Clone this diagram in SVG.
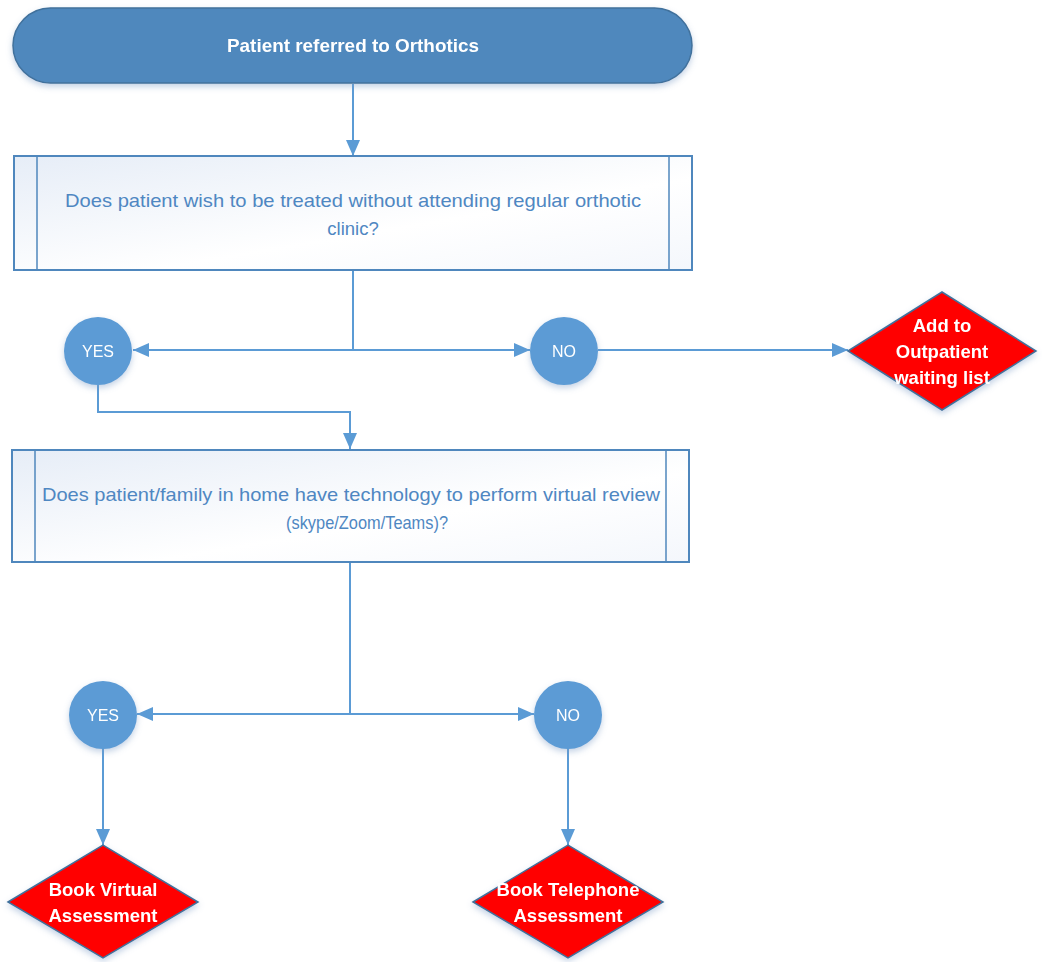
<svg xmlns="http://www.w3.org/2000/svg" width="1042" height="962" viewBox="0 0 1042 962">
<defs>
<linearGradient id="boxg" x1="0" y1="0" x2="1" y2="1">
<stop offset="0" stop-color="#e6edf7"/>
<stop offset="0.6" stop-color="#ffffff"/>
<stop offset="1" stop-color="#f4f7fc"/>
</linearGradient>
<filter id="sh" x="-20%" y="-20%" width="140%" height="150%">
<feDropShadow dx="0" dy="3" stdDeviation="3" flood-color="#7a9cc6" flood-opacity="0.45"/>
</filter>
<marker id="ah" viewBox="0 0 16 14" refX="16" refY="7" markerWidth="16" markerHeight="14" markerUnits="userSpaceOnUse" orient="auto">
<path d="M0,0 L16,7 L0,14 Z" fill="#5b9bd5"/>
</marker>
<style>
.conn{fill:none;stroke:#5b9bd5;stroke-width:2}
.arr{marker-end:url(#ah)}
.term{fill:#4f88bd;stroke:#41719c;stroke-width:1.5}
.box{fill:url(#boxg);stroke:#4f87bd;stroke-width:2}
.inner{stroke:#4f87bd;stroke-width:1.5}
.circ{fill:#5b9bd5}
.dia{fill:#ff0000;stroke:#41719c;stroke-width:1.5}
.t{font-family:"Liberation Sans",Arial,sans-serif;text-anchor:middle;dominant-baseline:central}
.tw{fill:#ffffff;font-weight:bold;font-size:18.5px}
.tb{fill:#4f87c2;font-size:18.5px}
.tc{fill:#ffffff;font-size:16px}
</style>
</defs>
<g id="connectors">
<path class="conn arr" d="M353,84 L353,156"/>
<path class="conn" d="M353,270 L353,350"/>
<path class="conn arr" d="M353,350 L133,350"/>
<path class="conn arr" d="M353,350 L530,350"/>
<path class="conn arr" d="M598,350 L848,350"/>
<path class="conn arr" d="M98,385 L98,412 L350,412 L350,449"/>
<path class="conn" d="M350,563 L350,714"/>
<path class="conn arr" d="M350,714 L137,714"/>
<path class="conn arr" d="M350,714 L534,714"/>
<path class="conn arr" d="M103,748 L103,845"/>
<path class="conn arr" d="M568,748 L568,845"/>
</g>
<g id="start" filter="url(#sh)">
<rect class="term" x="13" y="8" width="679" height="75" rx="37.5" ry="37.5"/>
<text class="t tw" x="353" y="45" textLength="252" lengthAdjust="spacingAndGlyphs">Patient referred to Orthotics</text>
</g>
<g id="q1">
<rect class="box" x="14" y="156" width="678" height="114"/>
<line class="inner" x1="37" y1="156" x2="37" y2="270"/>
<line class="inner" x1="669" y1="156" x2="669" y2="270"/>
<text class="t tb" x="353" y="200" textLength="576" lengthAdjust="spacingAndGlyphs">Does patient wish to be treated without attending regular orthotic</text>
<text class="t tb" x="353" y="228">clinic?</text>
</g>
<g id="yes1" filter="url(#sh)">
<circle class="circ" cx="98" cy="351" r="34"/>
<text class="t tc" x="98" y="351">YES</text>
</g>
<g id="no1" filter="url(#sh)">
<circle class="circ" cx="564" cy="351" r="34"/>
<text class="t tc" x="564" y="351">NO</text>
</g>
<g id="waitlist" filter="url(#sh)">
<polygon class="dia" points="848,351 942,292 1036,351 942,410"/>
<text class="t tw" x="942" y="325">Add to</text>
<text class="t tw" x="942" y="351">Outpatient</text>
<text class="t tw" x="942" y="377">waiting list</text>
</g>
<g id="q2">
<rect class="box" x="12" y="450" width="677" height="112"/>
<line class="inner" x1="35" y1="450" x2="35" y2="562"/>
<line class="inner" x1="666" y1="450" x2="666" y2="562"/>
<text class="t tb" x="351" y="494" textLength="618" lengthAdjust="spacingAndGlyphs">Does patient/family in home have technology to perform virtual review</text>
<text class="t tb" x="367" y="522" textLength="162" lengthAdjust="spacingAndGlyphs">(skype/Zoom/Teams)?</text>
</g>
<g id="yes2" filter="url(#sh)">
<circle class="circ" cx="103" cy="715" r="34"/>
<text class="t tc" x="103" y="715">YES</text>
</g>
<g id="no2" filter="url(#sh)">
<circle class="circ" cx="568" cy="715" r="34"/>
<text class="t tc" x="568" y="715">NO</text>
</g>
<g id="virtual" filter="url(#sh)">
<polygon class="dia" points="8,902 103,845 198,902 103,958"/>
<text class="t tw" x="103" y="889">Book Virtual</text>
<text class="t tw" x="103" y="915">Assessment</text>
</g>
<g id="telephone" filter="url(#sh)">
<polygon class="dia" points="473,902 568,845 663,902 568,958"/>
<text class="t tw" x="568" y="889" textLength="143" lengthAdjust="spacingAndGlyphs">Book Telephone</text>
<text class="t tw" x="568" y="915">Assessment</text>
</g>
</svg>
